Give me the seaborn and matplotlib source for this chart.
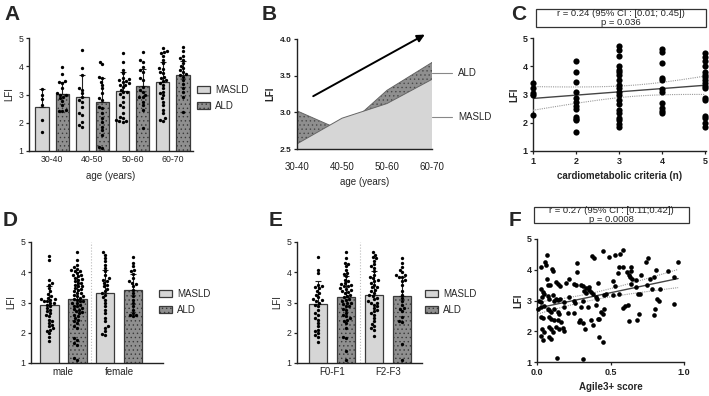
import numpy as np
import pandas as pd
import matplotlib
matplotlib.use("Agg")
import matplotlib.pyplot as plt
from matplotlib.patches import Patch, Rectangle
import seaborn as sns

# ---- data ----
groups = ["MASLD", "ALD"]

# A: LFI by age
a_cats = ["30-40", "40-50", "50-60", "60-70"]
a_masld_mean = [2.57, 2.92, 3.12, 3.45]
a_ald_mean = [3.02, 2.75, 3.30, 3.68]
a_masld_sd = [0.63, 0.78, 0.66, 0.70]
a_ald_sd = [0.43, 0.85, 0.60, 0.52]
a_masld_pts = [
    [3.19, 2.98, 2.83, 2.63, 2.10, 1.68],
    [4.58, 3.93, 3.69, 3.22, 3.16, 3.04, 2.92, 2.81, 2.75, 2.57, 2.33, 2.27, 2.01, 1.92, 1.86],
    [4.46, 4.16, 3.87, 3.75, 3.60, 3.55, 3.50, 3.48, 3.45, 3.40, 3.35, 3.34, 3.28, 3.16, 3.10, 3.08,
     3.01, 2.92, 2.75, 2.63, 2.57, 2.33, 2.22, 2.16, 2.10, 2.06, 2.05, 2.01],
    [4.66, 4.54, 4.50, 4.46, 4.37, 4.22, 4.10, 3.93, 3.90, 3.81, 3.75, 3.63, 3.57, 3.50, 3.48, 3.40,
     3.34, 3.22, 3.10, 3.04, 2.98, 2.86, 2.75, 2.63, 2.45, 2.33, 2.16, 2.10, 2.06],
]
a_ald_pts = [
    [3.96, 3.71, 3.48, 3.43, 3.40, 3.22, 3.05, 3.00, 2.98, 2.92, 2.86, 2.77, 2.63, 2.45, 2.42, 2.42],
    [4.16, 4.07, 3.63, 3.57, 3.45, 3.34, 3.22, 3.04, 2.86, 2.81, 2.57, 2.51, 2.33, 2.16, 2.04, 1.86,
     1.74, 1.57, 1.15, 1.12],
    [4.49, 4.22, 4.14, 3.99, 3.87, 3.81, 3.60, 3.51, 3.28, 3.16, 3.10, 3.00, 2.92, 2.90, 2.75, 2.63,
     2.45, 1.83],
    [4.69, 4.55, 4.37, 4.30, 4.22, 4.10, 4.02, 3.93, 3.85, 3.81, 3.71, 3.70, 3.63, 3.51, 3.36, 3.22,
     3.10, 2.92, 2.39],
]

# B: mean LFI trend by age (same means as A)
b_masld = a_masld_mean
b_ald = a_ald_mean

# C: LFI vs number of cardiometabolic criteria
c_criteria = [1] * 5 + [2] * 12 + [3] * 20 + [4] * 11 + [5] * 17
c_lfi = [3.42, 3.22, 3.05, 3.00, 2.28,
         4.17, 3.78, 3.43, 3.10, 2.87, 2.75, 2.60, 2.50, 2.20, 2.15, 2.08, 1.69,
         4.70, 4.56, 4.37, 4.00, 3.88, 3.78, 3.70, 3.52, 3.34, 3.22, 3.10, 3.00, 2.80, 2.68, 2.45, 2.36,
         2.16, 2.08, 1.96, 1.86,
         4.60, 4.52, 4.11, 3.58, 3.50, 3.19, 3.10, 2.69, 2.51, 2.42, 2.34,
         4.47, 4.33, 4.17, 4.00, 3.78, 3.70, 3.62, 3.50, 3.40, 3.31, 3.22, 2.87, 2.79, 2.24, 2.16, 1.98,
         1.86]
c_stats = "r = 0.24 (95% CI : [0.01; 0.45])\np = 0.036"

# D: LFI by sex
d_cats = ["male", "female"]
d_masld_mean = [2.91, 3.31]
d_ald_mean = [3.12, 3.42]
d_masld_sd = [0.62, 0.75]
d_ald_sd = [0.88, 0.52]
d_masld_pts = [
    [4.53, 4.42, 3.75, 3.64, 3.59, 3.48, 3.37, 3.28, 3.20, 3.15, 3.12, 3.10, 3.09, 3.06, 3.04, 3.00,
     2.98, 2.93, 2.87, 2.82, 2.76, 2.71, 2.65, 2.60, 2.54, 2.43, 2.38, 2.32, 2.27, 2.21, 2.16, 2.10,
     2.07, 1.99, 1.85, 1.72],
    [4.67, 4.58, 4.47, 4.36, 4.25, 4.14, 4.03, 3.92, 3.81, 3.76, 3.72, 3.64, 3.59, 3.53, 3.46, 3.37,
     3.31, 3.26, 3.17, 3.09, 2.98, 2.87, 2.76, 2.65, 2.49, 2.38, 2.21, 2.16, 2.05, 1.96, 1.91],
]
d_ald_pts = [
    [4.67, 4.42, 4.25, 4.16, 4.12, 4.09, 4.05, 4.03, 3.98, 3.92, 3.90, 3.86, 3.81, 3.78, 3.75, 3.70,
     3.66, 3.64, 3.59, 3.55, 3.53, 3.48, 3.45, 3.42, 3.37, 3.33, 3.31, 3.26, 3.22, 3.20, 3.15, 3.12,
     3.09, 3.06, 3.04, 3.00, 2.98, 2.93, 2.90, 2.87, 2.82, 2.79, 2.76, 2.71, 2.68, 2.65, 2.60, 2.55,
     2.49, 2.43, 2.38, 2.32, 2.21, 2.16, 1.83, 1.77, 1.66, 1.61, 1.17, 1.11],
    [4.49, 4.31, 4.20, 4.09, 4.03, 3.94, 3.81, 3.70, 3.64, 3.60, 3.53, 3.42, 3.31, 3.20, 3.09, 2.98,
     2.87, 2.76, 2.65, 2.60, 2.58, 2.54],
]

# E: LFI by fibrosis stage
e_cats = ["F0-F1", "F2-F3"]
e_masld_mean = [2.95, 3.26]
e_ald_mean = [3.17, 3.23]
e_masld_sd = [0.75, 0.77]
e_ald_sd = [0.70, 0.62]
e_masld_pts = [
    [4.49, 4.09, 3.98, 3.59, 3.53, 3.50, 3.48, 3.39, 3.31, 3.26, 3.17, 3.10, 3.09, 3.04, 3.00, 2.93,
     2.90, 2.76, 2.65, 2.58, 2.49, 2.43, 2.32, 2.21, 2.10, 2.05, 1.99, 1.91, 1.85, 1.69],
    [4.67, 4.58, 4.50, 4.47, 4.38, 4.27, 4.20, 4.14, 4.03, 3.92, 3.83, 3.80, 3.75, 3.70, 3.65, 3.59,
     3.50, 3.50, 3.42, 3.38, 3.31, 3.24, 3.20, 3.15, 3.10, 3.04, 3.00, 2.98, 2.93, 2.87, 2.82, 2.76,
     2.71, 2.65, 2.60, 2.49, 2.38, 2.29, 2.21, 2.16, 2.10, 1.88],
]
e_ald_pts = [
    [4.67, 4.47, 4.31, 4.28, 4.20, 4.09, 3.98, 3.94, 3.86, 3.75, 3.70, 3.64, 3.60, 3.59, 3.55, 3.53,
     3.48, 3.45, 3.40, 3.39, 3.35, 3.31, 3.26, 3.22, 3.17, 3.12, 3.09, 3.05, 3.00, 2.98, 2.95, 2.90,
     2.87, 2.80, 2.76, 2.65, 2.60, 2.54, 2.50, 2.43, 2.40, 2.32, 2.16, 1.85, 1.83, 1.39, 1.11],
    [4.47, 4.31, 4.16, 4.09, 4.01, 3.92, 3.90, 3.85, 3.83, 3.75, 3.70, 3.59, 3.37, 3.26, 3.15, 3.04,
     2.93, 2.82, 2.80, 2.71, 2.51, 2.38, 2.35, 1.63, 1.11],
]

# F: LFI vs Agile3+ score
f_agile = [0.068, 0.054, 0.061, 0.027, 0.100, 0.106, 0.271, 0.271, 0.371, 0.385, 0.446,
           0.027, 0.038, 0.032, 0.068, 0.072, 0.090, 0.129, 0.140, 0.158, 0.197, 0.215, 0.249,
           0.265, 0.299, 0.310, 0.333, 0.355, 0.412, 0.016, 0.027, 0.050, 0.072, 0.084, 0.106,
           0.118, 0.129, 0.140, 0.158, 0.186, 0.219, 0.253, 0.258, 0.310, 0.321, 0.333, 0.355,
           0.367, 0.378, 0.400, 0.407, 0.457, 0.005, 0.027, 0.050, 0.072, 0.084, 0.095, 0.118,
           0.140, 0.152, 0.181, 0.208, 0.249, 0.299, 0.344, 0.400, 0.434, 0.457, 0.027, 0.038,
           0.084, 0.095, 0.118, 0.140, 0.163, 0.294, 0.310, 0.367, 0.423, 0.446, 0.032, 0.050,
           0.084, 0.095, 0.106, 0.129, 0.152, 0.174, 0.186, 0.287, 0.326, 0.378, 0.412, 0.027,
           0.038, 0.084, 0.095, 0.423, 0.446, 0.136, 0.310,
           0.493, 0.534, 0.566, 0.584, 0.753, 0.742, 0.960, 0.557, 0.584, 0.640, 0.550, 0.611,
           0.624, 0.640, 0.636, 0.647, 0.674, 0.708, 0.810, 0.890, 0.799, 0.769, 0.930, 0.516,
           0.534, 0.640, 0.674, 0.747, 0.783, 0.837, 0.686, 0.701, 0.471, 0.516, 0.557, 0.814,
           0.828, 0.935, 0.588, 0.602, 0.618, 0.805, 0.692, 0.799, 0.624, 0.679]
f_lfi = [4.47, 4.26, 4.15, 4.09, 4.02, 3.95, 4.22, 3.93, 4.45, 4.39, 4.62,
         3.39, 3.28, 3.11, 3.71, 3.52, 3.49, 3.60, 3.55, 3.47, 3.58, 3.69, 3.53,
         3.49, 3.52, 3.46, 3.41, 3.44, 3.58, 3.00, 2.95, 3.22, 3.15, 3.06, 3.17,
         3.00, 3.06, 3.03, 3.06, 2.95, 3.11, 3.00, 2.93, 3.00, 3.30, 3.25, 3.33,
         3.28, 3.22, 3.11, 3.06, 3.17, 2.73, 2.79, 2.82, 2.73, 2.68, 2.62, 2.73,
         2.64, 2.57, 2.79, 2.59, 2.59, 2.79, 2.79, 2.84, 2.62, 2.73, 2.46, 2.43,
         2.46, 2.41, 2.38, 2.35, 2.30, 2.35, 2.27, 2.35, 2.41, 2.57, 2.08, 1.97,
         2.13, 2.08, 1.99, 2.13, 2.08, 2.10, 2.02, 2.30, 2.08, 2.19, 2.41, 1.86,
         1.70, 1.81, 1.75, 1.81, 1.64, 1.12, 1.10,
         4.42, 4.47, 4.50, 4.64, 4.39, 4.24, 4.25, 4.09, 4.09, 4.09, 3.88, 3.93,
         3.84, 3.95, 3.77, 3.71, 3.66, 3.84, 3.98, 3.95, 3.77, 3.69, 3.75, 3.63,
         3.47, 3.55, 3.44, 3.49, 3.36, 3.39, 3.22, 3.22, 3.20, 3.17, 3.20, 3.06,
         2.97, 2.90, 2.75, 2.82, 2.86, 2.73, 2.57, 2.54, 2.32, 2.35]
f_stats = "r = 0.27 (95% CI : [0.11;0.42])\np = 0.0008"

# ---- style ----
W, H = 709, 396
light = "#d6d6d6"
dark = "#8f8f8f"
edge = "#3a3a3a"
dots = "...."

sns.set_theme(style="ticks")
plt.rcParams["font.family"] = ["Liberation Sans", "DejaVu Sans"]
plt.rcParams["hatch.linewidth"] = 0.5
plt.rcParams["hatch.color"] = "#4a4a4a"

fig = plt.figure(figsize=(W / 100, H / 100), dpi=100)


def px_axes(x0, y0, x1, y1):
    # axes box given in pixel coords of the target image
    return fig.add_axes([x0 / W, 1 - y1 / H, (x1 - x0) / W, (y1 - y0) / H])


def style_ax(ax, bold=False, size=6.3):
    sns.despine(ax=ax)
    for s in ["left", "bottom"]:
        ax.spines[s].set_linewidth(1.0)
        ax.spines[s].set_color("#222222")
    ax.tick_params(labelsize=size, length=2.5, width=0.9, pad=1.5, colors="#222222")
    if bold:
        for t in ax.get_xticklabels() + ax.get_yticklabels():
            t.set_fontweight("bold")


def bar_panel(ax, cats, m_mean, a_mean, m_sd, a_sd, m_pts, a_pts, xlim, sep=False):
    keys, grp, means, sds, rows = [], [], [], [], []
    for i, c in enumerate(cats):
        for g, mu, sd, pts in [("MASLD", m_mean[i], m_sd[i], m_pts[i]),
                               ("ALD", a_mean[i], a_sd[i], a_pts[i])]:
            k = c + " " + g
            keys.append(k)
            grp.append(g)
            means.append(mu)
            sds.append(sd)
            rows += [(k, v) for v in pts]
    pts_df = pd.DataFrame(rows, columns=["key", "LFI"])
    sns.barplot(x=keys, y=means, hue=grp, order=keys, hue_order=groups, dodge=False,
                palette={"MASLD": light, "ALD": dark}, width=0.66, edgecolor=edge,
                linewidth=0.9, legend=False, ax=ax)
    for p in ax.patches:
        idx = int(round(p.get_x() + p.get_width() / 2))
        p.set_zorder(1)
        if grp[idx] == "ALD":
            p.set_hatch(dots)
    n = len(keys)
    ax.errorbar(np.arange(n), means, yerr=[np.zeros(n), sds], fmt="none",
                ecolor="#222222", elinewidth=0.8, capsize=2.5, capthick=0.8, zorder=2)
    sns.swarmplot(data=pts_df, x="key", y="LFI", order=keys, color="black", size=2.4,
                  linewidth=0, ax=ax, zorder=4, warn_thresh=1)
    if sep:
        for j in range(1, len(cats)):
            ax.axvline(2 * j - 0.5, color="#bbbbbb", lw=0.8, ls=":", zorder=0)
    ax.set_xticks([2 * i + 0.5 for i in range(len(cats))])
    ax.set_xticklabels(cats)
    ax.set_xlim(*xlim)
    ax.set_ylim(1, 5)
    ax.set_yticks([1, 2, 3, 4, 5])
    ax.set_xlabel("")
    ax.set_ylabel("LFI", fontsize=7, labelpad=3)
    style_ax(ax)
    ax.tick_params(axis="x", length=0, labelsize=7, pad=3)


def legend_at(x, y):
    handles = [Patch(facecolor=light, edgecolor=edge, linewidth=0.9, label="MASLD"),
               Patch(facecolor=dark, edgecolor=edge, linewidth=0.9, hatch=dots, label="ALD")]
    fig.legend(handles=handles, loc="center left", bbox_to_anchor=(x / W, 1 - y / H),
               frameon=False, fontsize=7, handlelength=1.3, handleheight=0.75,
               labelspacing=0.55, handletextpad=0.6, borderpad=0, borderaxespad=0)


def reg_panel(ax, x, y, x0, x1, t=1.98):
    x = np.asarray(x, float)
    y = np.asarray(y, float)
    b, a = np.polyfit(x, y, 1)
    resid = y - (a + b * x)
    s = np.sqrt(np.sum(resid ** 2) / (len(x) - 2))
    sxx = np.sum((x - x.mean()) ** 2)
    xs = np.linspace(x0, x1, 60)
    yh = a + b * xs
    half = t * s * np.sqrt(1 / len(x) + (xs - x.mean()) ** 2 / sxx)
    sns.lineplot(x=xs, y=yh, color="#444444", lw=1.0, ax=ax, zorder=3)
    ax.plot(xs, yh + half, color="#9a9a9a", lw=0.8, ls=(0, (1, 1)), zorder=3)
    ax.plot(xs, yh - half, color="#9a9a9a", lw=0.8, ls=(0, (1, 1)), zorder=3)


def stats_box(x0, y0, x1, y1, text):
    fig.add_artist(Rectangle((x0 / W, 1 - y1 / H), (x1 - x0) / W, (y1 - y0) / H,
                             transform=fig.transFigure, fill=False, ec="#333333", lw=0.9))
    fig.text((x0 + x1) / 2 / W, 1 - (y0 + y1) / 2 / H, text, ha="center", va="center",
             fontsize=6.8, linespacing=1.05)


# ---- A ----
axA = px_axes(29, 38, 193, 151)
bar_panel(axA, a_cats, a_masld_mean, a_ald_mean, a_masld_sd, a_ald_sd,
          a_masld_pts, a_ald_pts, (-0.65, 7.5))
axA.tick_params(axis="x", labelsize=6.3)
axA.set_xlabel("age (years)", fontsize=7, labelpad=5)
legend_at(197, 98)

# ---- B ----
axB = px_axes(297, 39, 432, 149)
xb = np.arange(len(a_cats))
axB.fill_between(xb, 2.5, b_ald, facecolor=dark, edgecolor="#4a4a4a", linewidth=0,
                 hatch=dots, zorder=1)
axB.fill_between(xb, 2.5, b_masld, facecolor=light, edgecolor="none", zorder=2)
sns.lineplot(x=xb, y=b_ald, color="#666666", lw=0.7, ax=axB, zorder=1.5)
sns.lineplot(x=xb, y=b_masld, color="#666666", lw=0.7, ax=axB, zorder=2.5)
axB.set_xlim(0, 3)
axB.set_ylim(2.5, 4.0)
axB.set_yticks([2.5, 3.0, 3.5, 4.0])
axB.set_yticklabels(["2.5", "3.0", "3.5", "4.0"])
axB.set_xticks(xb)
axB.set_xticklabels(a_cats)
style_ax(axB)
axB.tick_params(axis="x", length=0, labelsize=7, pad=9)
axB.tick_params(axis="y", labelsize=6)
for t in axB.get_yticklabels():
    t.set_fontweight("bold")
axB.set_ylabel("LFI", fontsize=7, fontweight="bold", labelpad=3)
axB.set_xlabel("age (years)", fontsize=7, labelpad=4)
axB.annotate("", xy=(2.84, 4.06), xytext=(0.36, 3.22), annotation_clip=False,
             arrowprops=dict(arrowstyle="-|>", lw=1.4, color="black", mutation_scale=11,
                             shrinkA=0, shrinkB=0))
for lab, yv in [("ALD", 3.54), ("MASLD", 2.93)]:
    axB.plot([3.0, 3.45], [yv, yv], color="#888888", lw=0.8, clip_on=False)
    axB.text(3.58, yv, lab, fontsize=7, va="center", ha="left")

# ---- C ----
axC = px_axes(533, 38, 706, 151)
sns.scatterplot(x=c_criteria, y=c_lfi, color="black", s=20, linewidth=0, ax=axC,
                zorder=4, clip_on=False)
reg_panel(axC, c_criteria, c_lfi, 1, 5, t=2.0)
axC.set_xlim(1, 5.02)
axC.set_ylim(1, 5)
axC.set_xticks([1, 2, 3, 4, 5])
axC.set_yticks([1, 2, 3, 4, 5])
style_ax(axC, bold=True, size=6.5)
axC.set_xlabel("cardiometabolic criteria (n)", fontsize=7, fontweight="bold", labelpad=4)
axC.set_ylabel("LFI", fontsize=7, fontweight="bold", labelpad=2)
stats_box(536, 9, 706, 27, c_stats)

# ---- D ----
axD = px_axes(31, 242, 163, 363)
bar_panel(axD, d_cats, d_masld_mean, d_ald_mean, d_masld_sd, d_ald_sd,
          d_masld_pts, d_ald_pts, (-0.66, 4.07), sep=True)
legend_at(159, 302)

# ---- E ----
axE = px_axes(297, 242, 422, 363)
bar_panel(axE, e_cats, e_masld_mean, e_ald_mean, e_masld_sd, e_ald_sd,
          e_masld_pts, e_ald_pts, (-0.75, 3.71), sep=True)
legend_at(425, 302)

# ---- F ----
axF = px_axes(537, 239, 684, 362)
sns.scatterplot(x=f_agile, y=f_lfi, color="black", s=11, linewidth=0, ax=axF,
                zorder=4, clip_on=False)
reg_panel(axF, f_agile, f_lfi, min(f_agile), max(f_agile))
axF.set_xlim(0, 1.0)
axF.set_ylim(1, 5)
axF.set_xticks([0.0, 0.5, 1.0])
axF.set_xticklabels(["0.0", "0.5", "1.0"])
axF.set_yticks([1, 2, 3, 4, 5])
style_ax(axF, bold=True, size=6.5)
axF.set_xlabel("Agile3+ score", fontsize=7, fontweight="bold", labelpad=4)
axF.set_ylabel("LFI", fontsize=7, fontweight="bold", labelpad=2)
stats_box(534, 207, 689, 223, f_stats)

# ---- panel letters ----
for lab, x, y in [("A", 4, 15), ("B", 262, 15), ("C", 511, 15),
                  ("D", 3, 221), ("E", 269, 221), ("F", 509, 220)]:
    fig.text(x / W, 1 - y / H, lab, fontsize=15, fontweight="bold", va="center", ha="left")

fig.savefig("out.png", dpi=100)
